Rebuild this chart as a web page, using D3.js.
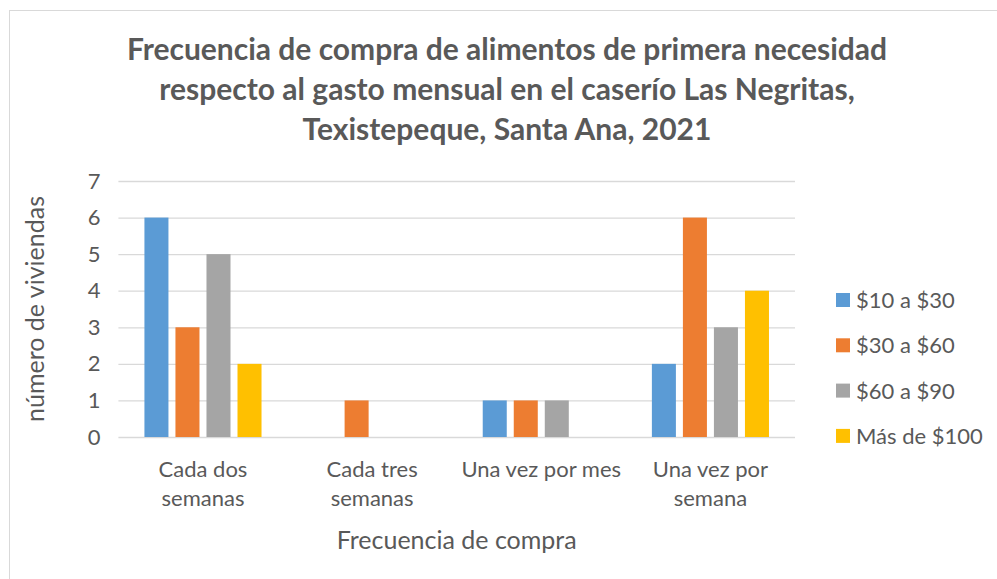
<!DOCTYPE html>
<html>
<head>
<meta charset="utf-8">
<script src="https://cdn.jsdelivr.net/npm/d3@7"></script>
<style>
  body { margin: 0; background: #fff; }
  text { font-family: Lato, "Open Sans", sans-serif; fill: #595959; }
</style>
</head>
<body>
<div id="chart"></div>
<script>
// data
const categories = ["Cada dos\nsemanas", "Cada tres\nsemanas", "Una vez por mes", "Una vez por\nsemana"];
const seriesNames = ["$10 a $30", "$30 a $60", "$60 a $90", "Más de $100"];
const s10a30 = [6, 0, 1, 2];
const s30a60 = [3, 1, 1, 6];
const s60a90 = [5, 0, 1, 3];
const sMas100 = [2, 0, 0, 4];
const yTicks = [0, 1, 2, 3, 4, 5, 6, 7];
const colors = ["#5B9BD5", "#ED7D31", "#A5A5A5", "#FFC000"];
const titleLines = [
  "Frecuencia de compra de alimentos de primera necesidad",
  "respecto al gasto mensual en el caserío Las Negritas,",
  "Texistepeque, Santa Ana, 2021"
];

const allSeries = [s10a30, s30a60, s60a90, sMas100];
const data = categories.map((c, i) => ({
  cat: c,
  values: seriesNames.map((s, j) => ({ key: s, value: allSeries[j][i] }))
}));

const W = 997, H = 579;
const plot = { left: 118.4, right: 795, top: 181, bottom: 437 };

const svg = d3.select("#chart")
  .append("svg")
    .attr("width", W)
    .attr("height", H);

// chart border
svg.append("rect")
  .attr("x", 9.5).attr("y", 10.5)
  .attr("width", W + 20).attr("height", H + 20)
  .attr("fill", "#fff")
  .attr("stroke", "#d9d9d9");

// title
svg.append("g").selectAll("text")
  .data(titleLines)
  .enter()
  .append("text")
    .attr("x", 507)
    .attr("y", (d, i) => 60 + i * 40)
    .attr("text-anchor", "middle")
    .attr("font-size", "30px")
    .attr("font-weight", "bold")
    .text(d => d);

// scales
const x0 = d3.scaleBand()
  .domain(categories)
  .range([plot.left, plot.right]);

const x1 = d3.scaleBand()
  .domain(seriesNames)
  .range([0, x0.bandwidth()])
  .paddingInner(0.2258)
  .paddingOuter(0.839);

const y = d3.scaleLinear()
  .domain([0, 7])
  .range([plot.bottom, plot.top]);

// gridlines + y labels
const yAxis = svg.append("g")
  .attr("transform", `translate(${plot.left},0)`)
  .call(d3.axisLeft(y).tickValues(yTicks).tickSize(-(plot.right - plot.left)).tickPadding(18).tickFormat(d3.format("d")));
yAxis.select(".domain").remove();
yAxis.selectAll("line").attr("stroke", "#d9d9d9").attr("stroke-width", 1.3);
yAxis.selectAll("text")
  .attr("font-size", "22px")
  .attr("font-family", "Lato, sans-serif")
  .attr("fill", "#595959");

// bars
svg.append("g").selectAll("g")
  .data(data)
  .enter()
  .append("g")
    .attr("transform", d => `translate(${x0(d.cat)},0)`)
  .selectAll("rect")
  .data(d => d.values.filter(v => v.value > 0))
  .enter()
  .append("rect")
    .attr("x", d => x1(d.key))
    .attr("y", d => y(d.value))
    .attr("width", x1.bandwidth())
    .attr("height", d => y(0) - y(d.value))
    .attr("fill", d => colors[seriesNames.indexOf(d.key)]);

// x labels
const xl = svg.append("g").selectAll("text")
  .data(categories)
  .enter()
  .append("text")
    .attr("x", d => x0(d) + x0.bandwidth() / 2)
    .attr("y", 477)
    .attr("text-anchor", "middle")
    .attr("font-size", "22px");
xl.selectAll("tspan")
  .data(d => d.split("\n"))
  .enter()
  .append("tspan")
    .attr("x", function() { return d3.select(this.parentNode).attr("x"); })
    .attr("dy", (d, i) => i === 0 ? 0 : 29)
    .text(d => d);

// axis titles
svg.append("text")
  .attr("x", (plot.left + plot.right) / 2)
  .attr("y", 549)
  .attr("text-anchor", "middle")
  .attr("font-size", "25px")
  .text("Frecuencia de compra");

svg.append("text")
  .attr("transform", `translate(44,${(plot.top + plot.bottom) / 2}) rotate(-90)`)
  .attr("text-anchor", "middle")
  .attr("font-size", "25px")
  .text("número de viviendas");

// legend
const legend = svg.append("g").selectAll("g")
  .data(seriesNames)
  .enter()
  .append("g")
    .attr("transform", (d, i) => `translate(836,${300 + i * 45.3})`);
legend.append("rect")
  .attr("y", -7)
  .attr("width", 14).attr("height", 14)
  .attr("fill", (d, i) => colors[i]);
legend.append("text")
  .attr("x", 20)
  .attr("y", 8)
  .attr("font-size", "22px")
  .text(d => d);
</script>
</body>
</html>
